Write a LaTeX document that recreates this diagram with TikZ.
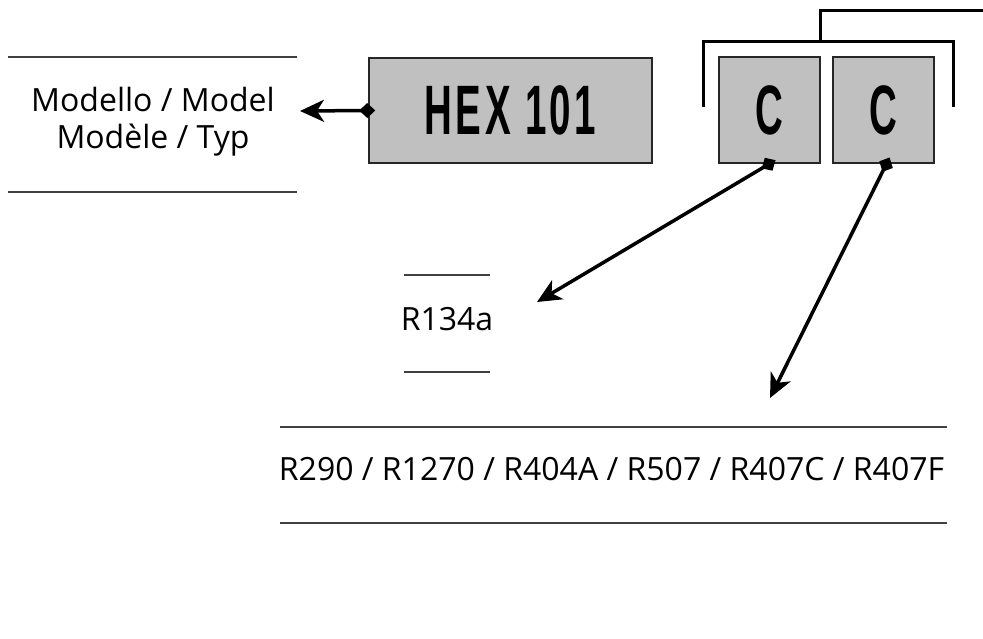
\documentclass[tikz,border=0pt]{standalone}
\usepackage{fontspec}
\setmainfont{Open Sans}
\newfontfamily\codefont[FakeStretch=0.55, LetterSpace=5]{Liberation Sans Bold}
\usetikzlibrary{arrows.meta}

\definecolor{boxgray}{HTML}{C0C0C0}

\tikzset{
  codebox/.style={draw=black!85, line width=1.5pt, fill=boxgray,
    font=\codefont\fontsize{70}{70}\selectfont},
  label/.style={anchor=base, inner sep=0pt, font=\fontsize{32}{38}\selectfont},
  rule/.style={draw=black!75, line width=1.2pt},
  pointer/.style={line width=3.5pt, shorten <=-7pt,
    {Turned Square[length=16pt,width=15pt]}-{Stealth[length=24pt,width=22pt,inset=7pt]}},
  bracket/.style={line width=3pt}
}

\begin{document}
\begin{tikzpicture}[x=1pt, y=-1pt]
    \useasboundingbox (0,0) rectangle (983,638);

    % code boxes
    \node[codebox, minimum width=283pt, minimum height=105pt] (hex) at (510.5,110.5) {HEX 101};
    \node[codebox, minimum width=101pt, minimum height=106pt] (c1) at (769.5,110) {C};
    \node[codebox, minimum width=101pt, minimum height=106pt] (c2) at (883.5,110) {C};

    % bracket over the two C boxes
    \draw[bracket] (703,107) |- (953,41) -- (953,107);
    \draw[bracket] (820,41) |- (983,10);

    % model
    \draw[rule] (8,57) -- (297,57);
    \node[label] (model1) at (153,111) {Modello / Model};
    \node[label] (model2) at (153,148) {Modèle / Typ};
    \draw[rule] (8,192) -- (297,192);

    % first refrigerant
    \draw[rule] (404,275) -- (490,275);
    \node[label] (r134) at (447,330) {R134a};
    \draw[rule] (404,372) -- (490,372);

    % second refrigerant list
    \draw[rule] (280,427) -- (947,427);
    \node[label] (rlist) at (611.5,480) {R290 / R1270 / R404A / R507 / R407C / R407F};
    \draw[rule] (280,523) -- (947,523);

    % pointers
    \coordinate (modelpin) at (300,111);
    \coordinate (r134pin) at (537,302);
    \coordinate (rlistpin) at (770,398);

    \draw[pointer] (hex.west) -- (modelpin);
    \draw[pointer] (c1.south) -- (r134pin);
    \draw[pointer] ([xshift=3pt]c2.south) -- (rlistpin);

  \end{tikzpicture}
\end{document}
